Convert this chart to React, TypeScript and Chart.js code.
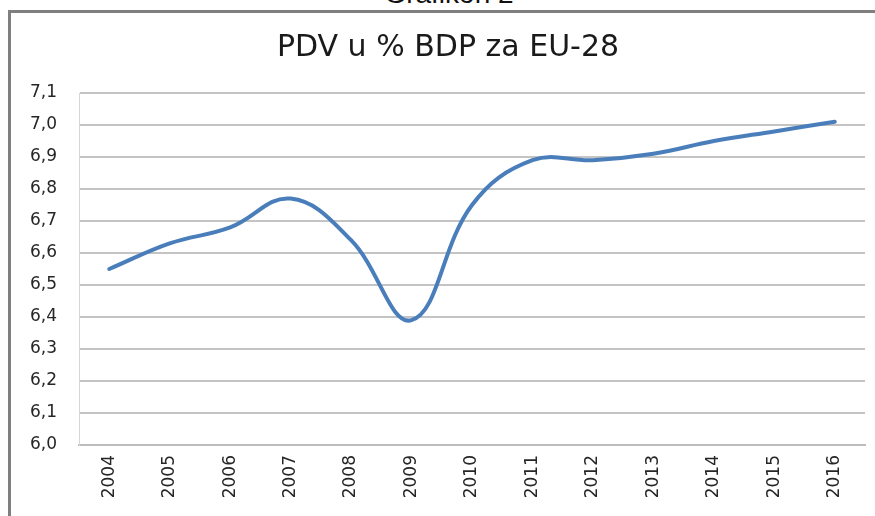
import React, { useEffect, useRef } from "react";
import { Chart, registerables } from "chart.js";

Chart.register(...registerables);

const years: string[] = ["2004", "2005", "2006", "2007", "2008", "2009", "2010", "2011", "2012", "2013", "2014", "2015", "2016"];
const vatShare: number[] = [6.55, 6.63, 6.68, 6.77, 6.64, 6.39, 6.75, 6.89, 6.89, 6.91, 6.95, 6.98, 7.01];
const chartTitle = "PDV u % BDP za EU-28";
const figureCaption = "Grafikon 2";
const yMin = 6.0;
const yMax = 7.1;
const yStep = 0.1;

export default function App() {
  const canvasRef = useRef<HTMLCanvasElement | null>(null);

  useEffect(() => {
    if (!canvasRef.current) return;
    const chart = new Chart(canvasRef.current, {
      type: "line",
      data: {
        labels: years,
        datasets: [
          {
            data: vatShare,
            borderColor: "#4a7ebb",
            borderWidth: 4,
            pointRadius: 0,
            tension: 0.4,
            fill: false,
            borderCapStyle: "round",
            yAxisID: "y",
          },
        ],
      },
      options: {
        animation: false,
        responsive: false,
        maintainAspectRatio: false,
        layout: { padding: { left: 21, right: 0, top: 0, bottom: 0 } },
        plugins: {
          legend: { display: false },
          tooltip: { enabled: false },
          title: {
            display: true,
            text: chartTitle,
            color: "#1a1a1a",
            font: { family: "'DejaVu Sans', sans-serif", size: 30, weight: "normal" },
            padding: { top: 30, bottom: 27 },
          },
        },
        scales: {
          x: {
            offset: true,
            grid: { display: false, drawTicks: false },
            border: { display: true, color: "#bdbdbd", width: 2 },
            ticks: {
              color: "#262626",
              font: { family: "'DejaVu Sans', sans-serif", size: 17 },
              minRotation: 90,
              maxRotation: 90,
              padding: 10,
              autoSkip: false,
            },
            afterFit: (scale: any) => {
              scale.height = 71;
            },
          },
          y: {
            min: yMin,
            max: yMax,
            grid: { color: "#c4c4c4", lineWidth: 2, drawTicks: false },
            border: { display: true, color: "#d6d6d6", width: 1 },
            ticks: {
              stepSize: yStep,
              color: "#262626",
              font: { family: "'DejaVu Sans', sans-serif", size: 17 },
              padding: 22,
              callback: (v: any) => Number(v).toFixed(1).replace(".", ","),
            },
            afterFit: (scale: any) => {
              scale.width = 58;
            },
          },
          spacer: {
            type: "linear",
            position: "right",
            min: yMin,
            max: yMax,
            grid: { display: false, drawTicks: false },
            border: { display: false },
            ticks: { display: false },
            afterFit: (scale: any) => {
              scale.width = 10;
            },
          },
        },
      },
    });
    return () => chart.destroy();
  }, []);

  return (
    <div
      style={{
        position: "fixed",
        left: 0,
        top: 0,
        width: 875,
        height: 516,
        overflow: "hidden",
        background: "#ffffff",
      }}
    >
      <div
        style={{
          position: "absolute",
          left: 0,
          width: 898,
          top: -20,
          lineHeight: "28px",
          fontSize: 28,
          fontFamily: "'Liberation Sans', Arial, sans-serif",
          textAlign: "center",
          color: "#111",
        }}
      >
        {figureCaption}
      </div>
      <div
        style={{
          position: "absolute",
          left: 8,
          top: 10,
          width: 900,
          height: 600,
          borderTop: "3px solid #7f7f7f",
          borderLeft: "3px solid #7f7f7f",
        }}
      />
      <canvas
        ref={canvasRef}
        width={875}
        height={516}
        style={{ position: "absolute", left: 0, top: 0, width: 875, height: 516 }}
      />
    </div>
  );
}
